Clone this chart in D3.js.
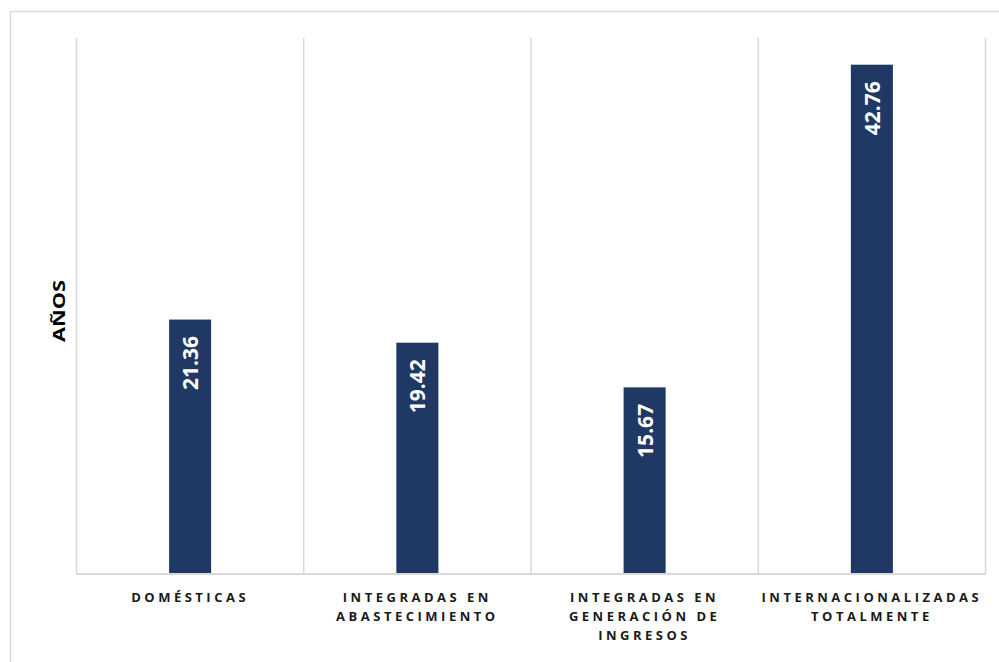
<!DOCTYPE html>
<html>
<head>
<meta charset="utf-8">
<script src="https://cdn.jsdelivr.net/npm/d3@7"></script>
<style>
  html, body { margin: 0; padding: 0; background: #fff; }
  svg { display: block; }
  text { font-family: "Open Sans", "Noto Sans", sans-serif; }
</style>
</head>
<body>
<div id="chart"></div>
<script>
// Categories (each label split into its display lines)
const categories = [
  "Domésticas",
  "Integradas en abastecimiento",
  "Integradas en generación de ingresos",
  "Internacionalizadas totalmente"
];
const categoryLines = [
  ["DOMÉSTICAS"],
  ["INTEGRADAS EN", "ABASTECIMIENTO"],
  ["INTEGRADAS EN", "GENERACIÓN DE", "INGRESOS"],
  ["INTERNACIONALIZADAS", "TOTALMENTE"]
];
// Average years per category
const values = [21.36, 19.42, 15.67, 42.76];
const yAxisTitle = "AÑOS";
const yMax = 45;

const width = 999, height = 662;
const margin = { left: 76.5, right: 13.5, top: 38, bottom: 88 };
const barColor = "#203864";
const gridColor = "#d9d9d9";

const svg = d3.select("#chart").append("svg")
  .attr("width", width).attr("height", height);

// Chart frame
svg.append("rect")
  .attr("x", 10.5).attr("y", 11.5)
  .attr("width", width + 20).attr("height", height + 20)
  .attr("fill", "none").attr("stroke", gridColor).attr("stroke-width", 1.5);

const x = d3.scaleBand()
  .domain(categories)
  .range([margin.left, width - margin.right])
  .paddingInner(0).paddingOuter(0);

const y = d3.scaleLinear()
  .domain([0, yMax])
  .range([height - margin.bottom, margin.top]);

// Vertical gridlines at category boundaries
const bounds = categories.map(c => x(c)).concat([x.range()[1]]);
svg.append("g").selectAll("line").data(bounds).join("line")
  .attr("x1", d => d).attr("x2", d => d)
  .attr("y1", margin.top).attr("y2", y(0))
  .attr("stroke", gridColor).attr("stroke-width", 1.5);

// Bars
const barW = x.bandwidth() * 0.185;
const data = categories.map((c, i) => ({ c, v: values[i], lines: categoryLines[i] }));
const cx = d => x(d.c) + x.bandwidth() / 2;

svg.append("g").selectAll("rect").data(data).join("rect")
  .attr("x", d => cx(d) - barW / 2)
  .attr("y", d => y(d.v))
  .attr("width", barW)
  .attr("height", d => y(0) - y(d.v))
  .attr("fill", barColor);

// Category axis line
svg.append("line")
  .attr("x1", margin.left).attr("x2", width - margin.right)
  .attr("y1", y(0)).attr("y2", y(0))
  .attr("stroke", gridColor).attr("stroke-width", 2);

// Value labels, rotated inside the top of each bar
svg.append("g").selectAll("text").data(data).join("text")
  .attr("transform", d => `translate(${cx(d) + 8},${y(d.v) + 16.5}) rotate(-90)`)
  .attr("text-anchor", "end")
  .attr("fill", "#fff")
  .attr("font-size", 21)
  .attr("font-weight", "bold")
  .text(d => d.v.toFixed(2));

// Category labels
const cat = svg.append("g").selectAll("text").data(data).join("text")
  .attr("y", y(0) + 27.5)
  .attr("text-anchor", "middle")
  .attr("font-size", 13)
  .attr("font-weight", "bold")
  .attr("letter-spacing", "3.5px")
  .attr("fill", "#1a1a1a");
cat.selectAll("tspan").data(d => d.lines.map(l => ({ l, x: cx(d) }))).join("tspan")
  .attr("x", d => d.x)
  .attr("dy", (d, i) => i === 0 ? 0 : 19)
  .text(d => d.l);

// Axis title
svg.append("text")
  .attr("transform", `translate(65,311) rotate(-90)`)
  .attr("text-anchor", "middle")
  .attr("font-size", 16)
  .attr("font-weight", "bold")
  .attr("textLength", 62)
  .attr("lengthAdjust", "spacingAndGlyphs")
  .attr("fill", "#000")
  .text(yAxisTitle);
</script>
</body>
</html>
